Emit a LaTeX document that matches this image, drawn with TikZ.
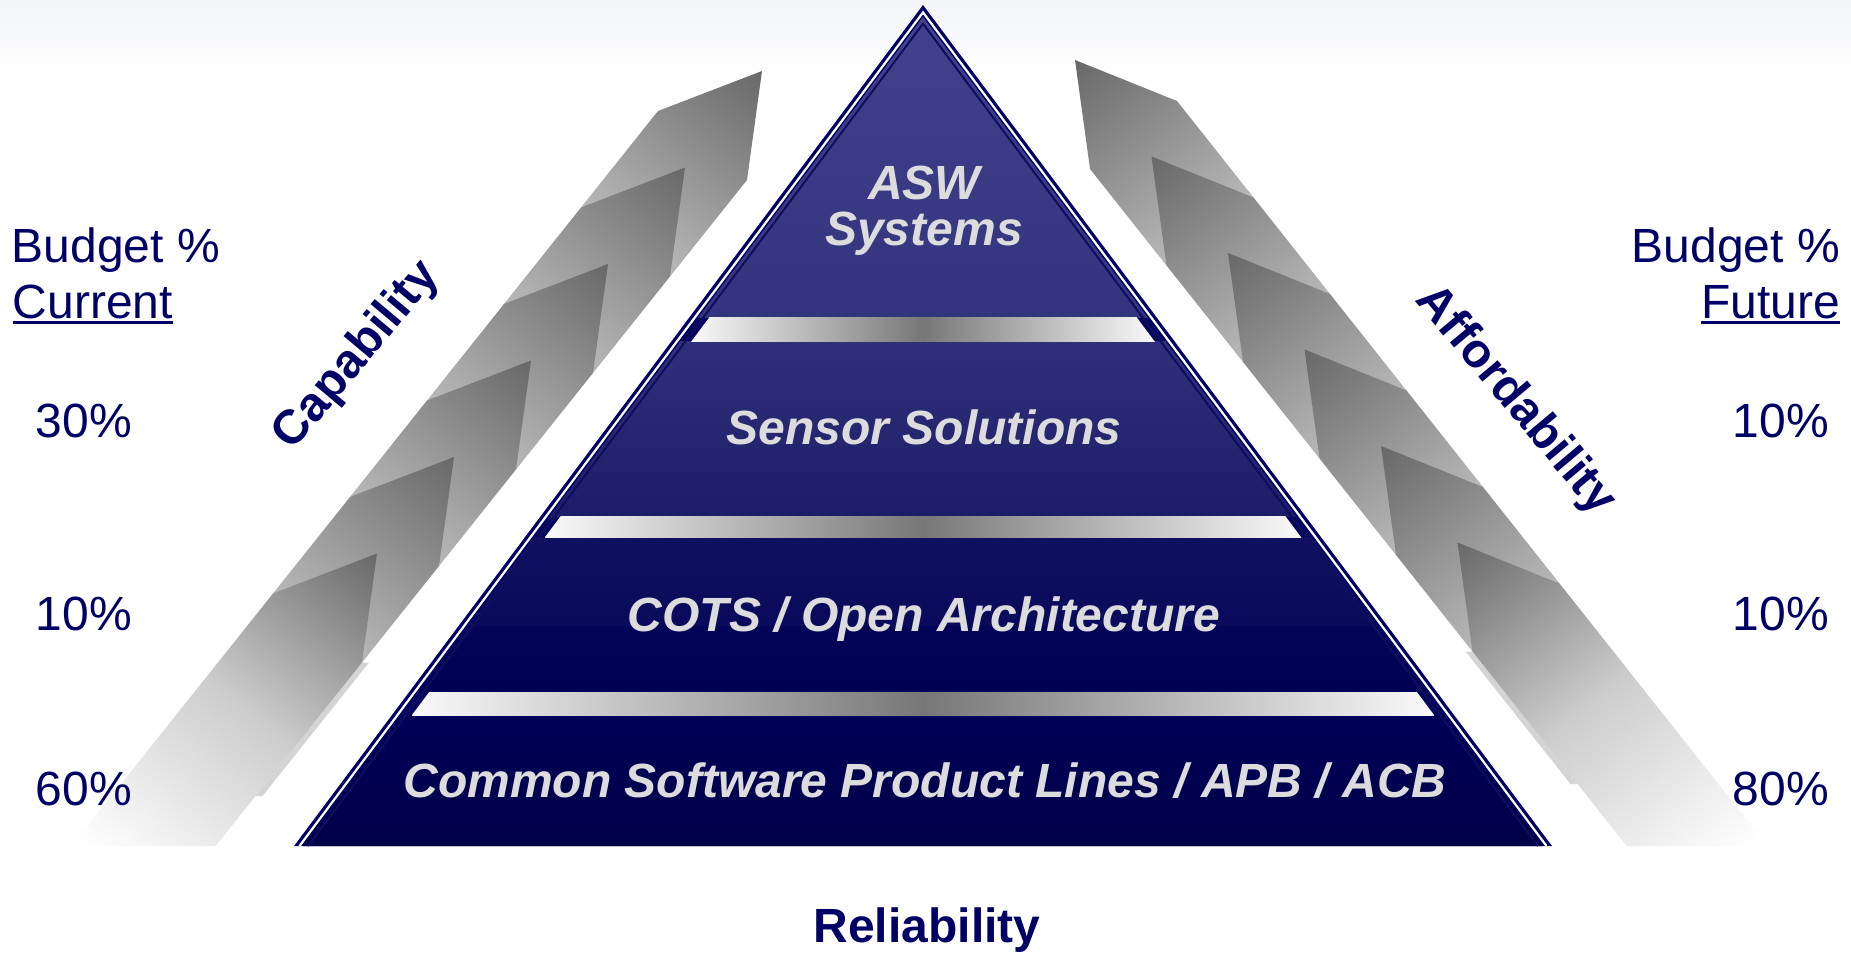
\documentclass[tikz,border=0pt]{standalone}
\usepackage{fontspec}
\setmainfont{Liberation Sans}
\usetikzlibrary{calc}
\definecolor{navy}{RGB}{0,0,102}
\definecolor{ptxt}{RGB}{220,220,220}
\definecolor{gdark}{RGB}{104,104,104}
\definecolor{glight}{RGB}{186,186,186}
\definecolor{gmid}{RGB}{205,205,205}
\definecolor{lband}{RGB}{212,212,212}
\definecolor{bgtop}{RGB}{243,244,247}
\definecolor{bandbase}{RGB}{6,6,94}
\definecolor{innerline}{RGB}{14,14,96}
\definecolor{bOneT}{RGB}{66,66,140}
\definecolor{bOneB}{RGB}{52,52,126}
\definecolor{bTwoT}{RGB}{48,48,122}
\definecolor{bTwoB}{RGB}{28,28,104}
\definecolor{bThrT}{RGB}{16,16,96}
\definecolor{bThrM}{RGB}{10,10,92}
\definecolor{bThrL}{RGB}{3,3,88}
\definecolor{bThrB}{RGB}{0,0,84}
\definecolor{bFouT}{RGB}{0,0,88}
\definecolor{bFouB}{RGB}{0,0,72}
\definecolor{barmid}{RGB}{119,119,119}
\definecolor{barend}{RGB}{250,250,250}
\tikzset{
  lbl/.style={font=\fontsize{48}{52}\selectfont, text=navy, inner sep=0pt},
  lblbold/.style={font=\fontsize{48}{52}\selectfont\bfseries, text=navy, inner sep=0pt},
  ptext/.style={font=\fontsize{48}{52}\selectfont\bfseries\itshape, text=ptxt, inner sep=0pt, anchor=base},
  barshade/.style={left color=barend, right color=barend, middle color=barmid},
  chevshade/.style={top color=gdark, bottom color=glight},
  lastshade/.style={top color=gdark, bottom color=white, middle color=gmid},
  uline/.style={navy, line width=2.4pt},
}
\begin{document}
\begin{tikzpicture}[x=1pt,y=-1pt]
\useasboundingbox (0,0) rectangle (1851,953);
\fill[white] (0,0) rectangle (1851,953);
\shade[top color=bgtop, bottom color=white] (0,0) rectangle (1851,72);

% chevron strip coordinates
\foreach \i in {0,...,5}{
  \coordinate (L\i) at ($(658,111)+\i*(-77,96.5)$);
  \coordinate (P\i) at ($(762,71)+\i*(-77,96.5)$);
  \coordinate (R\i) at ($(747,180)+\i*(-77,96.5)$);
  \coordinate (Q\i) at ($(1075,60)+\i*(76.5,96.5)$);
  \coordinate (T\i) at ($(1177,101)+\i*(76.5,96.5)$);
  \coordinate (B\i) at ($(1090,169)+\i*(76.5,96.5)$);
}
\coordinate (LBl) at (71.5,846);
\coordinate (LBr) at (215.6,846);
\coordinate (RBl) at (1626.7,846);
\coordinate (RBr) at (1767.6,846);

% light edge bands
\fill[lband] (R5) -- ++(7,0) -- (262.5,796) -- (255.5,796) -- cycle;
\fill[lband] (B5) -- ++(-7,0) -- (1570.5,784) -- (1577.5,784) -- cycle;

% left strip
\foreach \i/\j in {0/1,1/2,2/3,3/4,4/5}{
  \begin{scope}
    \clip (L\i) -- (P\i) -- (R\i) -- (R\j) -- (L\j) -- cycle;
    \shade[chevshade, transform canvas={shift={(P\i)}, rotate=-38.6}] (-300,0) rectangle (300,222);
  \end{scope}
}
\begin{scope}
  \clip (L5) -- (P5) -- (R5) -- (LBr) -- (LBl) -- cycle;
  \shade[lastshade, transform canvas={shift={(P5)}, rotate=-38.6}] (-400,0) rectangle (400,410);
\end{scope}

% right strip
\foreach \i/\j in {0/1,1/2,2/3,3/4,4/5}{
  \begin{scope}
    \clip (Q\i) -- (T\i) -- (T\j) -- (B\j) -- (B\i) -- cycle;
    \shade[chevshade, transform canvas={shift={(Q\i)}, rotate=38.4}] (-300,0) rectangle (300,222);
  \end{scope}
}
\begin{scope}
  \clip (Q5) -- (T5) -- (RBr) -- (RBl) -- (B5) -- cycle;
  \shade[lastshade, transform canvas={shift={(Q5)}, rotate=38.4}] (-400,0) rectangle (400,420);
\end{scope}

% pyramid
\fill[navy] (923,5) -- (294,846) -- (1552,846) -- cycle;
\draw[white, line width=2.2pt] (299.5,846) -- (923,12.4) -- (1546.5,846);
\begin{scope}
  \clip (923,17) -- (303,846) -- (1543,846) -- cycle;
  \fill[bandbase] (0,0) rectangle (1851,846);
  \shade[top color=bOneT, bottom color=bOneB] (0,17) rectangle (1851,317);
  \shade[top color=bTwoT, bottom color=bTwoB] (0,341) rectangle (1851,516);
  \shade[top color=bThrT, bottom color=bThrM] (0,537) rectangle (1851,626);
  \shade[top color=bThrL, bottom color=bThrB] (0,626) rectangle (1851,692);
  \shade[top color=bFouT, bottom color=bFouB] (0,715) rectangle (1851,846);
\end{scope}
\draw[innerline, line width=2pt] (308,846) -- (923,23.7) -- (1538,846);
\begin{scope}
  \clip (923,31.7) -- (314,846) -- (1532,846) -- cycle;
  \shade[barshade] (691,317) rectangle (1155,341);
  \shade[barshade] (545,516) rectangle (1301,537);
  \shade[barshade] (412,692) rectangle (1434,715);
\end{scope}

% pyramid texts
\node[ptext] (asw) at (924,199) {ASW};
\node[ptext] (sys) at (924,245) {Systems};
\node[ptext] (sens) at (924,444) {Sensor Solutions};
\node[ptext] (cots) at (924,631) {COTS / Open Architecture};
\node[ptext] (csw) at (925,797) {Common Software Product Lines / APB / ACB};

% side labels
\node[lbl, anchor=base west] (bl) at (11.5,262) {Budget \%};
\node[lbl, anchor=base west] (cur) at (12.5,318) {Current};
\draw[uline] ([yshift=-4.5pt]cur.base west) -- ([yshift=-4.5pt]cur.base east);
\node[lbl, anchor=base east] (br) at (1840,262) {Budget \%};
\node[lbl, anchor=base east] (fut) at (1840,318) {Future};
\draw[uline] ([yshift=-4.5pt]fut.base west) -- ([yshift=-4.5pt]fut.base east);

\node[lbl, anchor=base west] (l1) at (35.5,437) {30\%};
\node[lbl, anchor=base west] (l2) at (35.5,630) {10\%};
\node[lbl, anchor=base west] (l3) at (35.5,805) {60\%};
\node[lbl, anchor=base east] (r1) at (1829,437) {10\%};
\node[lbl, anchor=base east] (r2) at (1829,630) {10\%};
\node[lbl, anchor=base east] (r3) at (1829,805) {80\%};

\node[lblbold, anchor=base] (rel) at (927,942) {Reliability};
\node[lblbold, rotate=50] (cap) at (357,356) {Capability};
\node[lblbold, rotate=-50] (aff) at (1515,401) {Affordability};
\end{tikzpicture}
\end{document}
